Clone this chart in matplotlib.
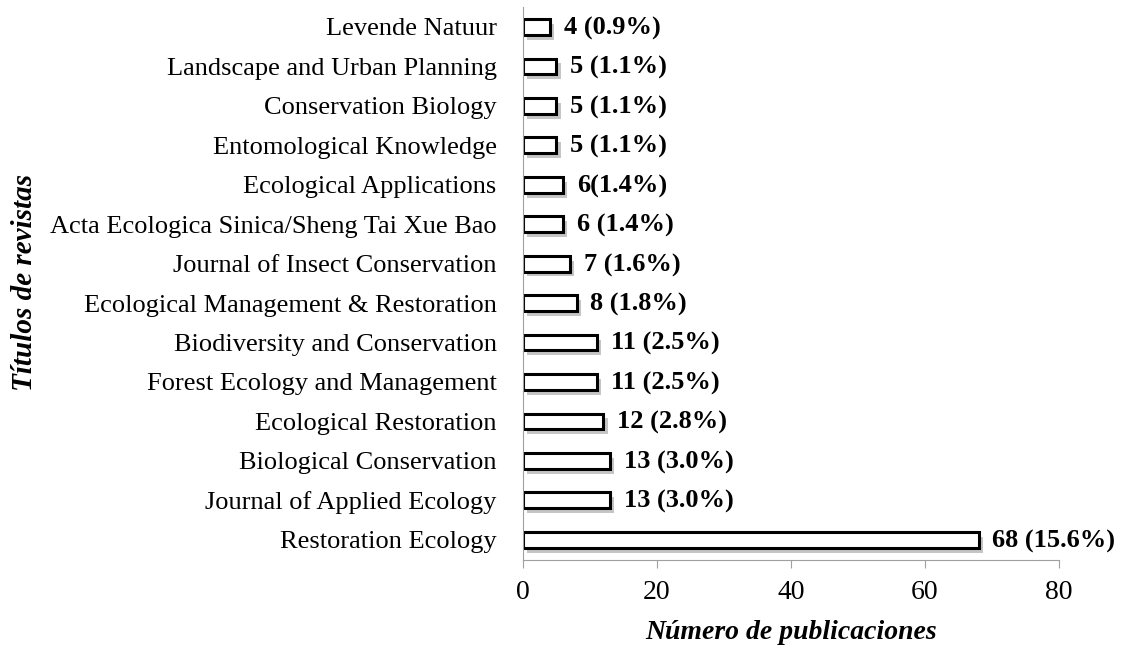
import matplotlib
matplotlib.use("Agg")
import matplotlib.pyplot as plt
import matplotlib.patheffects as pe

journals = [
    "Restoration Ecology",
    "Journal of Applied Ecology",
    "Biological Conservation",
    "Ecological Restoration",
    "Forest Ecology and Management",
    "Biodiversity and Conservation",
    "Ecological Management & Restoration",
    "Journal of Insect Conservation",
    "Acta Ecologica Sinica/Sheng Tai Xue Bao",
    "Ecological Applications",
    "Entomological Knowledge",
    "Conservation Biology",
    "Landscape and Urban Planning",
    "Levende Natuur",
]
counts = [68, 13, 13, 12, 11, 11, 8, 7, 6, 6, 5, 5, 5, 4]
bar_labels = [
    "68 (15.6%)", "13 (3.0%)", "13 (3.0%)", "12 (2.8%)", "11 (2.5%)",
    "11 (2.5%)", "8 (1.8%)", "7 (1.6%)", "6 (1.4%)", "6(1.4%)",
    "5 (1.1%)", "5 (1.1%)", "5 (1.1%)", "4 (0.9%)",
]

plt.rcParams["font.family"] = ["Liberation Serif", "DejaVu Serif"]

fig = plt.figure(figsize=(11.31, 6.55), dpi=100)
ax = fig.add_axes([0.4624, 0.1458, 0.4739, 0.8431])

# soft grey drop shadow like the office-style chart
shadow = [pe.SimplePatchShadow(offset=(3, -3.5), shadow_rgbFace="#808080", alpha=0.45),
          pe.Normal()]
y = list(range(len(journals)))
bars = ax.barh(y, counts, height=0.4, color="white", edgecolor="black", linewidth=2.2)
for b in bars:
    b.set_path_effects(shadow)

for yi, v, lab in zip(y, counts, bar_labels):
    ax.annotate(lab, (v, yi), xytext=(10, -1), textcoords="offset points",
                va="center", ha="left", fontsize=19, fontweight="bold")

ax.set_xlim(0, 80)
ax.set_ylim(-0.5, len(journals) - 0.5)
ax.set_xticks([0, 20, 40, 60, 80])
ax.set_yticks(y)
ax.set_yticklabels(journals, fontsize=19)
ax.tick_params(axis="y", length=0, pad=19)
ax.tick_params(axis="x", direction="out", length=6, color="#a0a0a0", labelsize=20, pad=9)

for side in ["top", "right"]:
    ax.spines[side].set_visible(False)
ax.spines["left"].set_color("#a0a0a0")
ax.spines["bottom"].set_color("#a0a0a0")

fig.text(0.6994, 0.0336, "Número de publicaciones", fontsize=20, fontweight="bold",
         fontstyle="italic", ha="center", va="center")
fig.text(0.022, 0.5695, "Títulos de revistas", rotation=90, fontsize=21,
         fontweight="bold", fontstyle="italic", ha="center", va="center")

fig.savefig("out.png", dpi=100)
